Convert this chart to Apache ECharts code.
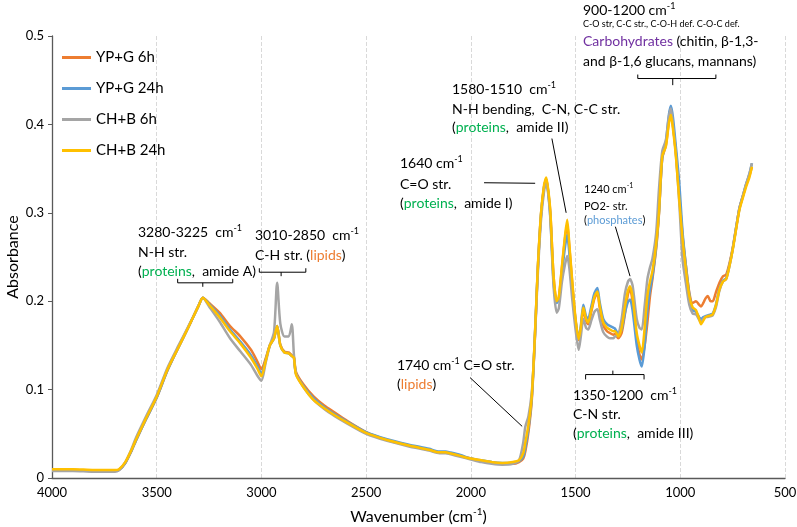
<!DOCTYPE html>
<html>
<head>
<meta charset="utf-8">
<script src="https://cdn.jsdelivr.net/npm/echarts@6/dist/echarts.min.js"></script>
<style>
  html, body { margin: 0; padding: 0; background: #fff; }
  #chart { width: 797px; height: 527px; }
</style>
</head>
<body>
<div id="chart"></div>
<script>
// wavenumber grid (cm-1)
const wavenumbers = [
  4000, 3900, 3800, 3700, 3680, 3650, 3620, 3600, 3550, 3500,
  3450, 3400, 3350, 3300, 3280, 3250, 3200, 3150, 3100, 3050,
  3020, 3000, 2980, 2960, 2940, 2925, 2910, 2890, 2870, 2855,
  2845, 2835, 2800, 2750, 2700, 2650, 2600, 2500, 2400, 2300,
  2200, 2150, 2120, 2100, 2050, 2000, 1950, 1900, 1850, 1800,
  1770, 1750, 1740, 1725, 1710, 1700, 1690, 1680, 1665, 1650,
  1640, 1630, 1620, 1605, 1590, 1580, 1565, 1550, 1540, 1530,
  1515, 1500, 1485, 1475, 1463, 1450, 1440, 1425, 1410, 1396,
  1385, 1368, 1350, 1336, 1320, 1312, 1296, 1280, 1264, 1250,
  1240, 1228, 1208, 1195, 1184, 1170, 1157, 1145, 1133, 1115,
  1102, 1086, 1069, 1055, 1045, 1035, 1021, 1005, 989, 973,
  957, 941, 925, 910, 901, 890, 880, 869, 855, 845,
  830, 813, 797, 781, 765, 749, 733, 717, 700, 685,
  670, 658
];

const seriesNames = ["YP+G 6h", "YP+G 24h", "CH+B 6h", "CH+B 24h"];
const seriesColors = ["#ED7D31", "#5B9BD5", "#A5A5A5", "#FFC000"];

const ypg6h = [
  0.009, 0.009, 0.008, 0.008, 0.009, 0.017, 0.031, 0.042, 0.067, 0.091,
  0.121, 0.146, 0.170, 0.195, 0.204, 0.198, 0.187, 0.172, 0.160, 0.145,
  0.132, 0.123, 0.135, 0.150, 0.158, 0.172, 0.151, 0.143, 0.142, 0.139,
  0.137, 0.120, 0.106, 0.092, 0.082, 0.074, 0.066, 0.052, 0.043, 0.037,
  0.032, 0.029, 0.029, 0.028, 0.025, 0.022, 0.019, 0.017, 0.016, 0.016,
  0.018, 0.022, 0.030, 0.052, 0.085, 0.128, 0.182, 0.238, 0.298, 0.330,
  0.338, 0.323, 0.298, 0.228, 0.200, 0.204, 0.238, 0.272, 0.288, 0.262,
  0.218, 0.178, 0.156, 0.168, 0.190, 0.178, 0.174, 0.188, 0.203, 0.209,
  0.193, 0.173, 0.166, 0.164, 0.162, 0.163, 0.158, 0.164, 0.186, 0.208,
  0.214, 0.200, 0.158, 0.140, 0.134, 0.150, 0.176, 0.205, 0.225, 0.260,
  0.298, 0.362, 0.376, 0.402, 0.413, 0.398, 0.368, 0.320, 0.274, 0.240,
  0.210, 0.198, 0.200, 0.196, 0.194, 0.198, 0.203, 0.206, 0.200, 0.200,
  0.210, 0.221, 0.228, 0.230, 0.243, 0.261, 0.284, 0.306, 0.320, 0.332,
  0.342, 0.352
];

const ypg24h = [
  0.009, 0.009, 0.008, 0.008, 0.009, 0.017, 0.031, 0.042, 0.067, 0.091,
  0.121, 0.146, 0.170, 0.195, 0.204, 0.197, 0.184, 0.168, 0.154, 0.139,
  0.127, 0.118, 0.133, 0.150, 0.158, 0.172, 0.150, 0.142, 0.141, 0.138,
  0.136, 0.118, 0.104, 0.090, 0.080, 0.072, 0.065, 0.052, 0.044, 0.038,
  0.033, 0.030, 0.030, 0.029, 0.026, 0.022, 0.020, 0.018, 0.017, 0.017,
  0.019, 0.024, 0.034, 0.056, 0.088, 0.130, 0.184, 0.238, 0.298, 0.330,
  0.338, 0.322, 0.294, 0.222, 0.198, 0.202, 0.232, 0.262, 0.275, 0.255,
  0.214, 0.178, 0.158, 0.172, 0.196, 0.183, 0.180, 0.194, 0.209, 0.215,
  0.199, 0.180, 0.174, 0.172, 0.170, 0.169, 0.163, 0.168, 0.187, 0.199,
  0.202, 0.190, 0.150, 0.134, 0.126, 0.150, 0.190, 0.212, 0.228, 0.262,
  0.300, 0.362, 0.380, 0.410, 0.421, 0.408, 0.375, 0.334, 0.278, 0.240,
  0.208, 0.190, 0.188, 0.182, 0.180, 0.182, 0.183, 0.184, 0.185, 0.186,
  0.196, 0.214, 0.223, 0.226, 0.241, 0.260, 0.284, 0.306, 0.320, 0.333,
  0.344, 0.356
];

const chb6h = [
  0.008, 0.008, 0.007, 0.007, 0.009, 0.018, 0.033, 0.045, 0.070, 0.094,
  0.124, 0.148, 0.171, 0.195, 0.204, 0.194, 0.177, 0.158, 0.143, 0.128,
  0.116, 0.110, 0.130, 0.150, 0.165, 0.221, 0.175, 0.160, 0.160, 0.174,
  0.140, 0.118, 0.103, 0.088, 0.078, 0.070, 0.063, 0.050, 0.042, 0.036,
  0.031, 0.028, 0.028, 0.027, 0.024, 0.021, 0.018, 0.016, 0.015, 0.016,
  0.020, 0.040, 0.058, 0.070, 0.095, 0.130, 0.180, 0.232, 0.292, 0.325,
  0.335, 0.320, 0.292, 0.217, 0.187, 0.192, 0.222, 0.242, 0.251, 0.238,
  0.200, 0.168, 0.145, 0.160, 0.180, 0.170, 0.168, 0.178, 0.188, 0.191,
  0.180, 0.165, 0.160, 0.158, 0.158, 0.160, 0.162, 0.180, 0.209, 0.222,
  0.225, 0.218, 0.180, 0.170, 0.168, 0.195, 0.225, 0.238, 0.248, 0.278,
  0.326, 0.370, 0.382, 0.408, 0.418, 0.400, 0.366, 0.312, 0.247, 0.220,
  0.196, 0.186, 0.185, 0.179, 0.176, 0.180, 0.182, 0.182, 0.183, 0.184,
  0.193, 0.212, 0.222, 0.225, 0.240, 0.260, 0.283, 0.305, 0.320, 0.333,
  0.344, 0.356
];

const chb24h = [
  0.010, 0.010, 0.009, 0.009, 0.010, 0.018, 0.032, 0.043, 0.068, 0.092,
  0.122, 0.146, 0.170, 0.195, 0.204, 0.196, 0.182, 0.166, 0.152, 0.136,
  0.124, 0.115, 0.132, 0.150, 0.158, 0.172, 0.150, 0.142, 0.141, 0.138,
  0.136, 0.117, 0.103, 0.088, 0.079, 0.071, 0.064, 0.051, 0.043, 0.037,
  0.032, 0.029, 0.029, 0.028, 0.025, 0.022, 0.020, 0.018, 0.017, 0.018,
  0.020, 0.028, 0.040, 0.060, 0.090, 0.132, 0.185, 0.240, 0.300, 0.332,
  0.340, 0.325, 0.300, 0.228, 0.200, 0.205, 0.240, 0.275, 0.292, 0.265,
  0.220, 0.180, 0.157, 0.170, 0.193, 0.180, 0.176, 0.190, 0.205, 0.211,
  0.195, 0.176, 0.170, 0.168, 0.166, 0.166, 0.160, 0.170, 0.194, 0.212,
  0.217, 0.205, 0.164, 0.150, 0.142, 0.170, 0.206, 0.222, 0.234, 0.265,
  0.300, 0.364, 0.375, 0.400, 0.411, 0.395, 0.364, 0.315, 0.270, 0.236,
  0.206, 0.193, 0.190, 0.180, 0.174, 0.178, 0.182, 0.183, 0.184, 0.185,
  0.195, 0.213, 0.222, 0.225, 0.240, 0.259, 0.282, 0.304, 0.318, 0.330,
  0.340, 0.352
];

const allValues = [ypg6h, ypg24h, chb6h, chb24h];

// leader lines and brackets, in data units (wavenumber, absorbance)
const leaderLines = [
  [[2004, 0.1136], [1755, 0.0584]],
  [[1937, 0.334], [1693, 0.3334]],
  [[1613, 0.384], [1545, 0.300]],
  [[1310, 0.2843], [1240, 0.2283]]
];
// [left, right, centre, level, end tick, centre tick]
const brackets = [
  [3400, 3137, 3280, 0.2208, 0.0045, -0.0045],
  [3010, 2788, 2906, 0.2328, 0.0045, -0.0045],
  [1452, 1173, 1322, 0.1170, -0.0055, 0.0045],
  [1203, 830, 1036, 0.4519, 0.0045, -0.0075]
];

const FONT = "Lato";

const annLines = [];
leaderLines.forEach(l => annLines.push({ coords: l }));
brackets.forEach(([a, b, c, y, e, t]) => {
  annLines.push({ coords: [[a, y + e], [a, y], [b, y], [b, y + e]] });
  annLines.push({ coords: [[c, y], [c, y + t]] });
});

function rich(size) {
  return {
    n: { fontFamily: FONT, fontSize: size, fill: "#000" },
    s: { fontFamily: FONT, fontSize: Math.round(size * 0.62), fill: "#000", padding: [0, 0, Math.round(size * 0.55), 0] },
    g: { fontFamily: FONT, fontSize: size, fill: "#00B050" },
    o: { fontFamily: FONT, fontSize: size, fill: "#ED7D31" },
    b: { fontFamily: FONT, fontSize: size, fill: "#5B9BD5" },
    p: { fontFamily: FONT, fontSize: size, fill: "#7030A0" }
  };
}

function txt(x, y, text, size) {
  return {
    type: "text", x: x, y: y, silent: true, z: 100,
    style: {
      text: text, fontFamily: FONT, fontSize: size, fill: "#000",
      verticalAlign: "middle", align: "left", rich: rich(size)
    }
  };
}

const texts = [
  txt(138, 232, "{n|3280-3225  cm}{s|-1}", 14),
  txt(138, 252, "{n|N-H str.}", 14),
  txt(138, 271, "{n|(}{g|proteins}{n|,  amide A)}", 14),

  txt(255, 235, "{n|3010-2850  cm}{s|-1}", 14),
  txt(255, 255, "{n|C-H str. (}{o|lipids}{n|)}", 14),

  txt(397, 365, "{n|1740 cm}{s|-1}{n| C=O str.}", 14),
  txt(397, 384, "{n|(}{o|lipids}{n|)}", 14),

  txt(400, 163, "{n|1640 cm}{s|-1}", 14),
  txt(400, 184, "{n|C=O str.}", 14),
  txt(400, 203, "{n|(}{g|proteins}{n|,  amide I)}", 14),

  txt(452, 89, "{n|1580-1510  cm}{s|-1}", 14),
  txt(452, 109, "{n|N-H bending,  C-N, C-C str.}", 14),
  txt(452, 127, "{n|(}{g|proteins}{n|,  amide II)}", 14),

  txt(584, 189, "{n|1240 cm}{s|-1}", 11),
  txt(584, 206, "{n|PO2- str.}", 11),
  txt(584, 220, "{n|(}{b|phosphates}{n|)}", 11),

  txt(573, 395, "{n|1350-1200  cm}{s|-1}", 14),
  txt(573, 414, "{n|C-N str.}", 14),
  txt(573, 433, "{n|(}{g|proteins}{n|,  amide III)}", 14),

  txt(583, 10, "{n|900-1200 cm}{s|-1}", 14),
  txt(583, 24, "{n|C-O str, C-C str., C-O-H def. C-O-C def.}", 9),
  txt(583, 41, "{p|Carbohydrates}{n| (chitin, β-1,3-}", 14),
  txt(583, 61, "{n|and β-1,6 glucans, mannans)}", 14)
];

const series = seriesNames.map((name, i) => ({
  name: name,
  type: "line",
  data: wavenumbers.map((w, k) => [w, allValues[i][k]]),
  showSymbol: false,
  smooth: 0.25,
  lineStyle: { width: 2.5, color: seriesColors[i] },
  itemStyle: { color: seriesColors[i] },
  z: 2 + i
}));

series.push({
  type: "lines",
  coordinateSystem: "cartesian2d",
  polyline: true,
  silent: true,
  z: 20,
  lineStyle: { color: "#000", width: 1, opacity: 1 },
  data: annLines
});

const chart = echarts.init(document.getElementById("chart"), null, { renderer: "canvas" });
chart.setOption({
  animation: false,
  backgroundColor: "#fff",
  grid: { left: 52, right: 12, top: 36, bottom: 49, containLabel: false, outerBoundsMode: "none" },
  legend: {
    orient: "vertical",
    left: 57,
    top: 45,
    itemWidth: 29,
    itemHeight: 3,
    itemGap: 16,
    icon: "rect",
    data: seriesNames,
    textStyle: { fontFamily: FONT, fontSize: 15, color: "#000" }
  },
  xAxis: {
    type: "value",
    inverse: true,
    min: 500,
    max: 4000,
    interval: 500,
    name: "{a|Wavenumber (cm}{s|-1}{a|)}",
    nameLocation: "middle",
    nameGap: 29,
    nameMoveOverlap: false,
    nameTextStyle: {
      rich: {
        a: { fontFamily: FONT, fontSize: 16, color: "#000" },
        s: { fontFamily: FONT, fontSize: 10, color: "#000", padding: [0, 0, 9, 0] }
      }
    },
    axisLine: { lineStyle: { color: "#595959", width: 1.3 } },
    axisTick: { show: false },
    axisLabel: { fontFamily: FONT, fontSize: 13, color: "#000", margin: 8, formatter: v => String(v) },
    splitLine: { show: true, lineStyle: { color: "#d9d9d9", type: "dashed", width: 1 } }
  },
  yAxis: {
    type: "value",
    min: 0,
    max: 0.5,
    interval: 0.1,
    name: "Absorbance",
    nameLocation: "middle",
    nameGap: 31,
    nameMoveOverlap: false,
    nameTextStyle: { fontFamily: FONT, fontSize: 16, color: "#000" },
    axisLine: { show: true, lineStyle: { color: "#595959", width: 1.3 } },
    axisTick: { show: true, length: 4, lineStyle: { color: "#595959" } },
    axisLabel: {
      fontFamily: FONT, fontSize: 13, color: "#000", margin: 8,
      formatter: v => (v === 0 ? "0" : v.toFixed(1))
    },
    splitLine: { show: false }
  },
  series: series,
  graphic: texts
});
</script>
</body>
</html>
